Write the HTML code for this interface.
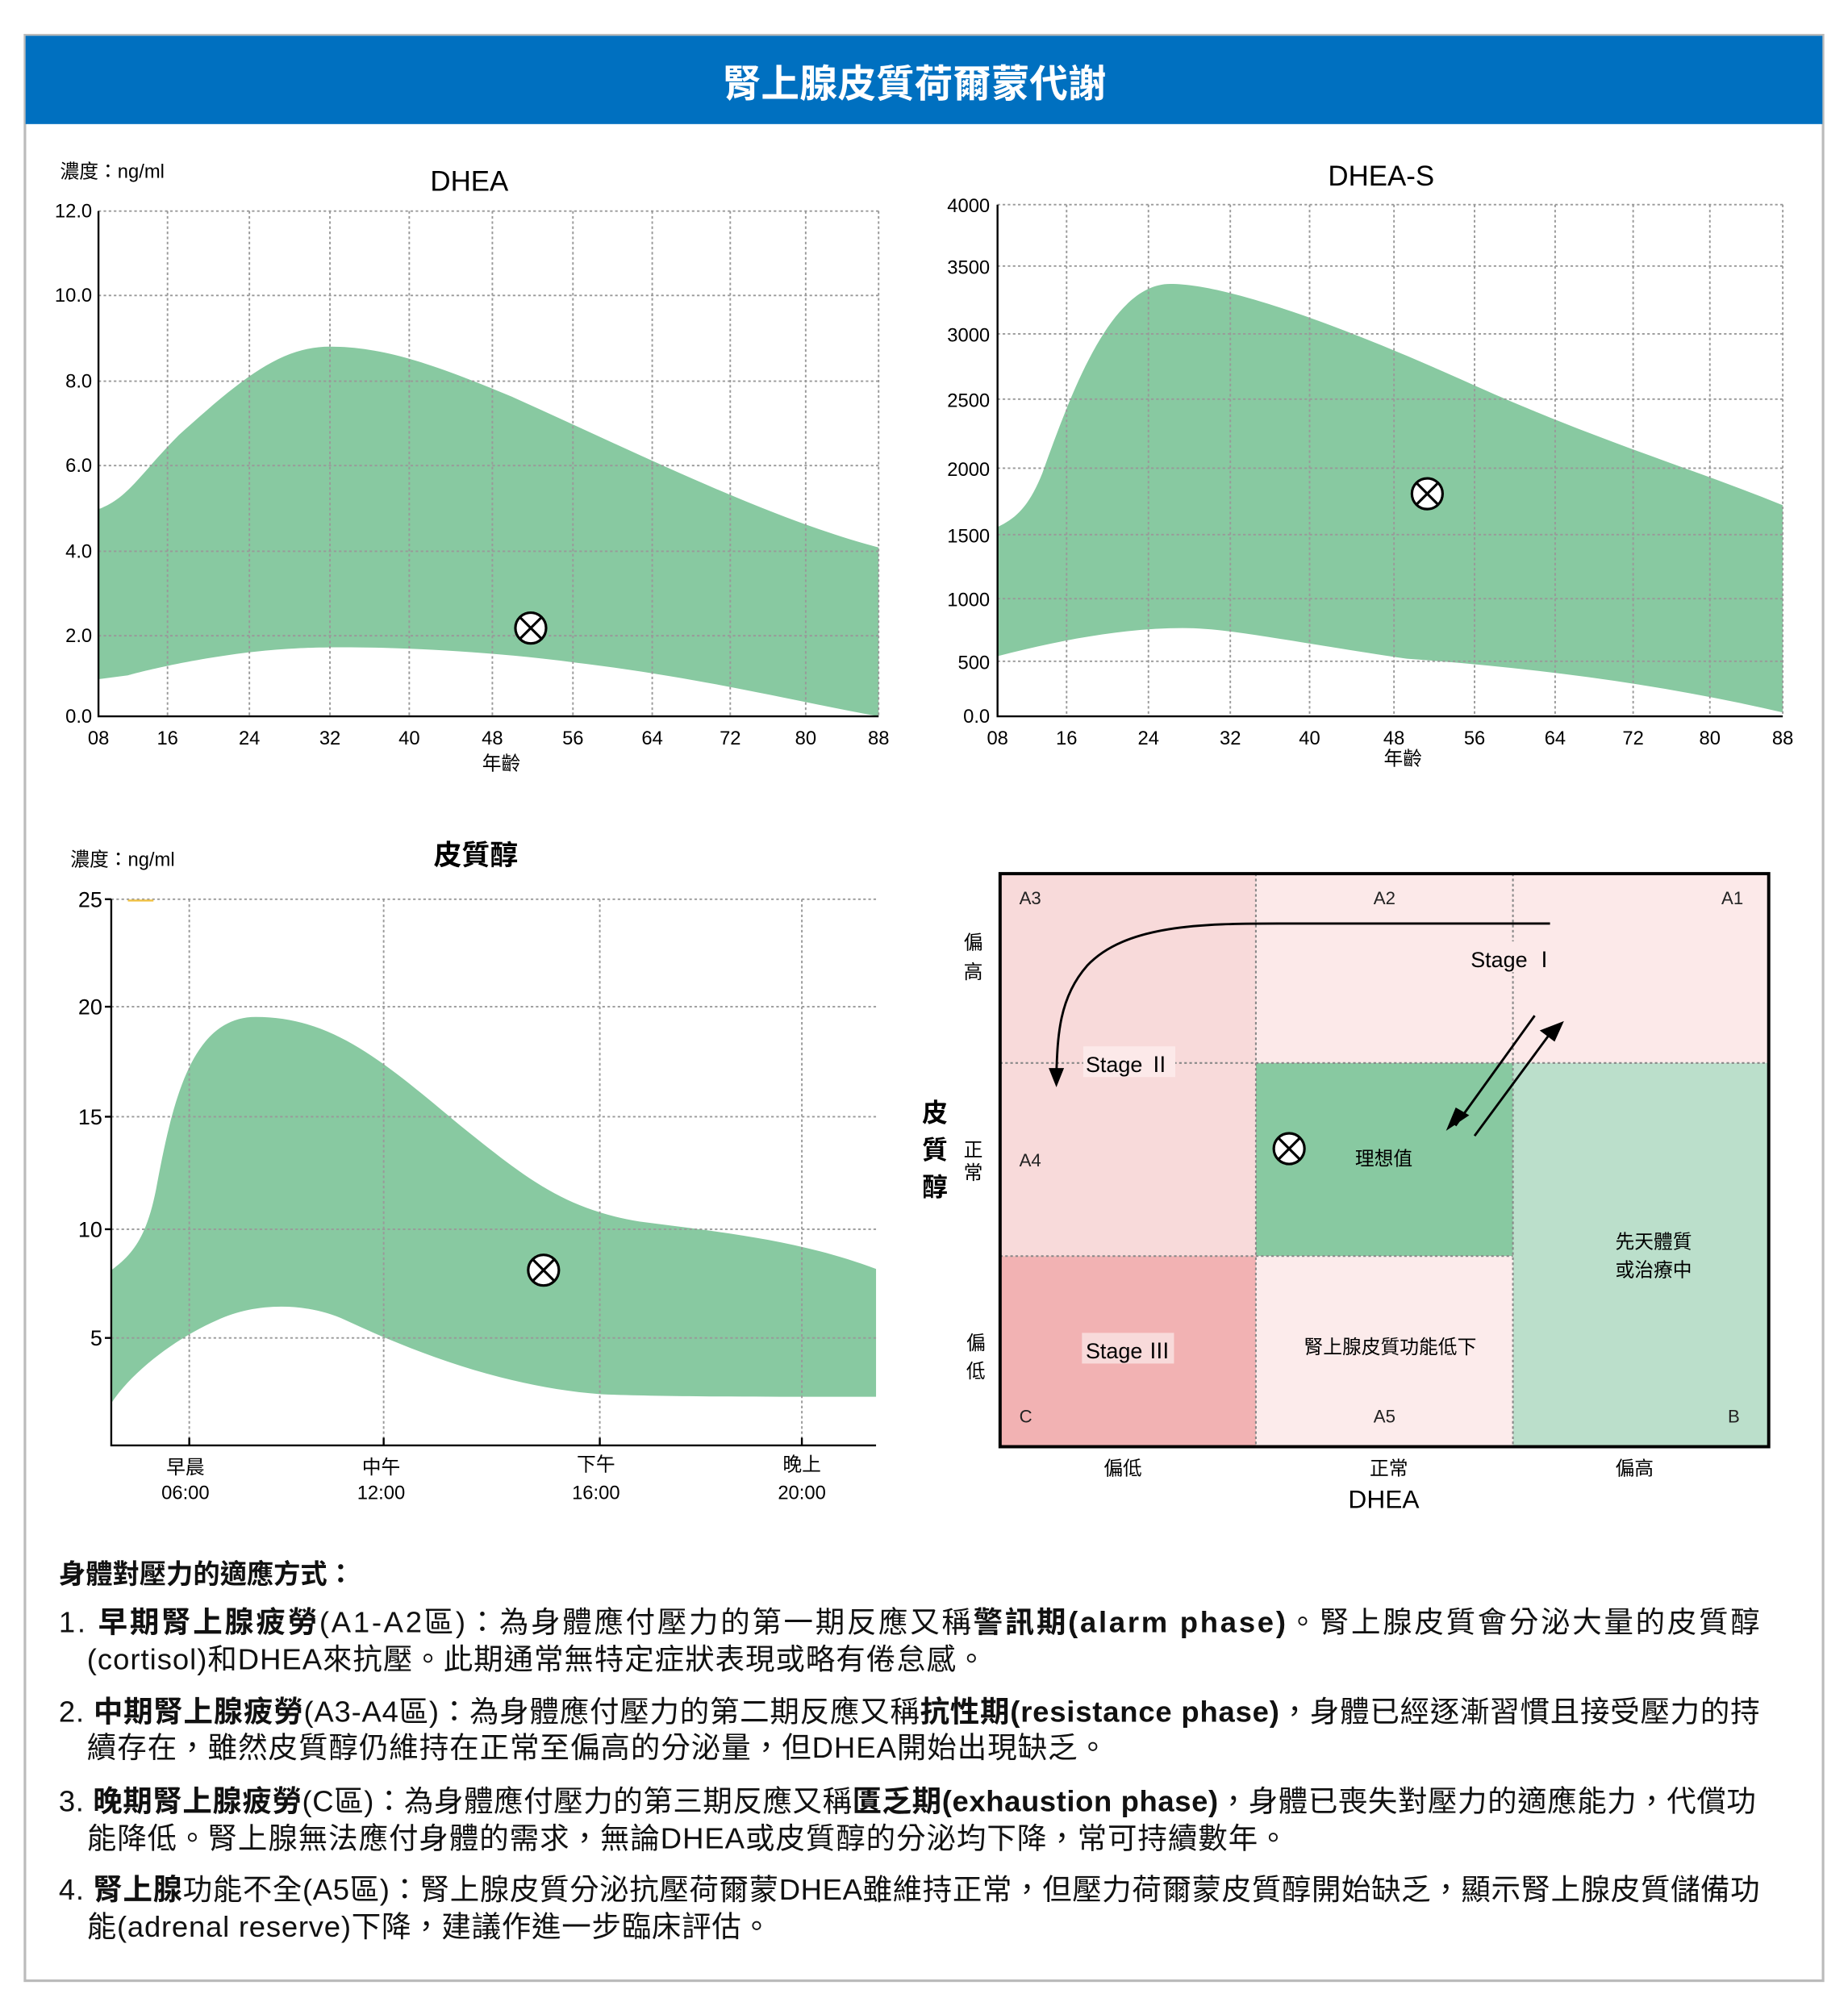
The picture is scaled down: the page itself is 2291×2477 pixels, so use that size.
<!DOCTYPE html>
<html><head><meta charset="utf-8"><style>
html,body{margin:0;padding:0;background:#fff}
svg{display:block}
text{font-family:"Liberation Sans","Noto Sans CJK TC",sans-serif}
</style></head><body>
<svg width="2291" height="2477" viewBox="0 0 1445 1562" preserveAspectRatio="none" xmlns="http://www.w3.org/2000/svg">
<rect x="19.5" y="27.5" width="1406" height="1521" fill="#fff" stroke="#bbb" stroke-width="2"/>
<rect x="20" y="28" width="1405" height="69" fill="#0070C0"/>
<text x="715" y="76" font-size="30" font-weight="bold" fill="#fff" text-anchor="middle">腎上腺皮質荷爾蒙代謝</text>

<!-- DHEA -->
<g>
<text x="47" y="139" font-size="15">濃度：ng/ml</text>
<text x="367" y="149" font-size="22" text-anchor="middle">DHEA</text>
<path d="M77,398 C100,390 110,370 140,340 C190,295 220,271 258,271 C300,271 340,285 400,310 C500,355 600,405 687,428 L687,560 C620,548 550,530 450,518 C350,505 260,505 230,507 C170,510 110,525 100,528 L77,531 Z" fill="#88C9A1"/>
<g stroke="#999" stroke-width="1.2" stroke-dasharray="2,2" fill="none">
<path d="M131,165V560M195,165V560M258,165V560M320,165V560M385,165V560M448,165V560M510,165V560M571,165V560M630,165V560M687,165V560"/>
<path d="M77,165H687M77,231H687M77,298H687M77,364H687M77,431H687M77,497H687"/>
</g>
<path d="M77,165V560H687" stroke="#000" stroke-width="1.5" fill="none"/>
<g font-size="15" text-anchor="end">
<text x="72" y="170">12.0</text><text x="72" y="236">10.0</text><text x="72" y="303">8.0</text><text x="72" y="369">6.0</text><text x="72" y="436">4.0</text><text x="72" y="502">2.0</text><text x="72" y="565">0.0</text>
</g>
<g font-size="15" text-anchor="middle">
<text x="77" y="582">08</text><text x="131" y="582">16</text><text x="195" y="582">24</text><text x="258" y="582">32</text><text x="320" y="582">40</text><text x="385" y="582">48</text><text x="448" y="582">56</text><text x="510" y="582">64</text><text x="571" y="582">72</text><text x="630" y="582">80</text><text x="687" y="582">88</text>
<text x="392" y="602">年齡</text>
</g>
<g stroke="#000" stroke-width="2" fill="#fff"><circle cx="415" cy="491" r="12"/><path d="M407,483L423,499M423,483L407,499"/></g>
</g>

<!-- DHEA-S -->
<g>
<text x="1080" y="145" font-size="22" text-anchor="middle">DHEA-S</text>
<path d="M780,412 C795,405 805,395 815,370 C840,300 870,222 915,222 C960,222 1050,255 1150,300 C1250,345 1320,365 1394,395 L1394,557 C1300,535 1200,522 1100,515 C1000,500 960,491 925,491 C880,491 830,500 780,513 Z" fill="#88C9A1"/>
<g stroke="#999" stroke-width="1.2" stroke-dasharray="2,2" fill="none">
<path d="M834,160V560M898,160V560M962,160V560M1024,160V560M1090,160V560M1153,160V560M1216,160V560M1277,160V560M1337,160V560M1394,160V560"/>
<path d="M780,160H1394M780,208H1394M780,261H1394M780,312H1394M780,366H1394M780,418H1394M780,468H1394M780,517H1394"/>
</g>
<path d="M780,160V560H1394" stroke="#000" stroke-width="1.5" fill="none"/>
<g font-size="15" text-anchor="end">
<text x="774" y="166">4000</text><text x="774" y="214">3500</text><text x="774" y="267">3000</text><text x="774" y="318">2500</text><text x="774" y="372">2000</text><text x="774" y="424">1500</text><text x="774" y="474">1000</text><text x="774" y="523">500</text><text x="774" y="565">0.0</text>
</g>
<g font-size="15" text-anchor="middle">
<text x="780" y="582">08</text><text x="834" y="582">16</text><text x="898" y="582">24</text><text x="962" y="582">32</text><text x="1024" y="582">40</text><text x="1090" y="582">48</text><text x="1153" y="582">56</text><text x="1216" y="582">64</text><text x="1277" y="582">72</text><text x="1337" y="582">80</text><text x="1394" y="582">88</text>
<text x="1097" y="598">年齡</text>
</g>
<g stroke="#000" stroke-width="2" fill="#fff"><circle cx="1116" cy="386" r="12"/><path d="M1108,378L1124,394M1124,378L1108,394"/></g>
</g>

<!-- Cortisol -->
<g>
<text x="55" y="677" font-size="15">濃度：ng/ml</text>
<text x="372" y="676" font-size="22" font-weight="bold" text-anchor="middle">皮質醇</text>
<path d="M87,993 C105,980 115,965 122,930 C135,860 150,795 200,795 C260,795 300,830 360,880 C410,920 440,945 500,955 C560,963 620,968 685,992 L685,1092 C600,1092 520,1092 470,1090 C400,1085 330,1060 270,1032 C240,1018 200,1018 170,1032 C140,1045 105,1070 87,1097 Z" fill="#88C9A1"/>
<g stroke="#999" stroke-width="1.2" stroke-dasharray="2,2" fill="none">
<path d="M148,703V1130M300,703V1130M469,703V1130M627,703V1130"/>
<path d="M87,703H685M87,787H685M87,873H685M87,961H685M87,1046H685"/>
</g>
<path d="M100,704H120" stroke="#f0c040" stroke-width="1.5"/>
<path d="M87,703V1130H685" stroke="#000" stroke-width="1.5" fill="none"/>
<path d="M82,703H87M82,787H87M82,873H87M82,961H87M82,1046H87M148,1130V1124M300,1130V1124M469,1130V1124M627,1130V1124" stroke="#000" stroke-width="1.5"/>
<g font-size="17" text-anchor="end">
<text x="80" y="709">25</text><text x="80" y="793">20</text><text x="80" y="879">15</text><text x="80" y="967">10</text><text x="80" y="1052">5</text>
</g>
<g font-size="15" text-anchor="middle">
<text x="145" y="1152">早晨</text><text x="145" y="1172">06:00</text>
<text x="298" y="1152">中午</text><text x="298" y="1172">12:00</text>
<text x="466" y="1150">下午</text><text x="466" y="1172">16:00</text>
<text x="627" y="1150">晚上</text><text x="627" y="1172">20:00</text>
</g>
<g stroke="#000" stroke-width="2" fill="#fff"><circle cx="425" cy="993" r="12"/><path d="M417,985L433,1001M433,985L417,1001"/></g>
</g>

<!-- Quadrant -->
<g>
<rect x="782" y="683" width="200" height="299" fill="#F8DADA"/>
<rect x="982" y="683" width="401" height="148" fill="#FCE9E9"/>
<rect x="982" y="831" width="201" height="151" fill="#88C9A1"/>
<rect x="1183" y="831" width="200" height="300" fill="#BBDFCB"/>
<rect x="782" y="982" width="200" height="149" fill="#F2B2B3"/>
<rect x="982" y="982" width="201" height="149" fill="#FCEBEB"/>
<g stroke="#888" stroke-width="1.3" stroke-dasharray="2,2" fill="none">
<path d="M982,683V1131M1183,683V1131M782,831H1383M782,982H1183"/>
</g>
<rect x="782" y="683" width="601" height="448" fill="none" stroke="#000" stroke-width="2.5"/>
<g font-size="14" fill="#222">
<text x="797" y="707">A3</text><text x="1074" y="707">A2</text><text x="1346" y="707">A1</text>
<text x="797" y="912">A4</text><text x="797" y="1112">C</text><text x="1074" y="1112">A5</text><text x="1351" y="1112">B</text>
</g>
<path d="M1212,722 L1000,722 C940,722 880,723 850,755 C828,780 827,810 826,840" stroke="#000" stroke-width="1.8" fill="none"/>
<path d="M820,835 L826,850 L832,835 Z" fill="#000"/>
<path d="M1200,794 L1138,880 M1153,888 L1215,804" stroke="#000" stroke-width="1.8"/>
<path d="M1134,880 L1146,872 L1139,868 Z M1220,801 L1207,806 L1215,812Z" fill="#000" stroke="#000" stroke-width="3"/>
<rect x="1146" y="736" width="70" height="24" fill="#FCE9E9"/>
<text x="1183" y="756" font-size="17" text-anchor="middle">Stage Ⅰ</text>
<rect x="847" y="818" width="72" height="24" fill="#FCE9E9"/>
<text x="882" y="838" font-size="17" text-anchor="middle">Stage Ⅱ</text>
<rect x="846" y="1042" width="72" height="24" fill="#F8DADA"/>
<text x="882" y="1062" font-size="17" text-anchor="middle">Stage Ⅲ</text>
<text x="1082" y="911" font-size="15" text-anchor="middle">理想值</text>
<text x="1293" y="976" font-size="15" text-anchor="middle">先天體質</text>
<text x="1293" y="998" font-size="15" text-anchor="middle">或治療中</text>
<text x="1087" y="1058" font-size="15" text-anchor="middle">腎上腺皮質功能低下</text>
<g stroke="#000" stroke-width="2" fill="#fff"><circle cx="1008" cy="898" r="12"/><path d="M1000,890L1016,906M1016,890L1000,906"/></g>
<g font-size="15" text-anchor="middle">
<text x="761" y="742">偏</text><text x="761" y="765">高</text>
<text x="761" y="904">正</text><text x="761" y="922">常</text>
<text x="763" y="1055">偏</text><text x="763" y="1077">低</text>
<text x="878" y="1153">偏低</text><text x="1086" y="1153">正常</text><text x="1278" y="1153">偏高</text>
</g>
<g font-size="20" font-weight="bold" text-anchor="middle">
<text x="731" y="877">皮</text><text x="731" y="906">質</text><text x="731" y="935">醇</text>
</g>
<text x="1082" y="1179" font-size="20" text-anchor="middle">DHEA</text>
</g>

<!-- Text -->
<g font-size="23" fill="#111">
<text x="46" y="1238" font-weight="bold" font-size="21">身體對壓力的適應方式：</text>
<text x="46" y="1276" textLength="1330" lengthAdjust="spacing"><tspan>1.</tspan><tspan font-weight="bold"> 早期腎上腺疲勞</tspan>(A1-A2區)：為身體應付壓力的第一期反應又稱<tspan font-weight="bold">警訊期(alarm phase)</tspan>。腎上腺皮質會分泌大量的皮質醇</text>
<text x="68" y="1305" textLength="703" lengthAdjust="spacing">(cortisol)和DHEA來抗壓。此期通常無特定症狀表現或略有倦怠感。</text>
<text x="46" y="1346" textLength="1330" lengthAdjust="spacing"><tspan>2.</tspan><tspan font-weight="bold"> 中期腎上腺疲勞</tspan>(A3-A4區)：為身體應付壓力的第二期反應又稱<tspan font-weight="bold">抗性期(resistance phase)</tspan>，身體已經逐漸習慣且接受壓力的持</text>
<text x="68" y="1374" textLength="798" lengthAdjust="spacing">續存在，雖然皮質醇仍維持在正常至偏高的分泌量，但DHEA開始出現缺乏。</text>
<text x="46" y="1416" textLength="1327" lengthAdjust="spacing"><tspan>3.</tspan><tspan font-weight="bold"> 晚期腎上腺疲勞</tspan>(C區)：為身體應付壓力的第三期反應又稱<tspan font-weight="bold">匱乏期(exhaustion phase)</tspan>，身體已喪失對壓力的適應能力，代償功</text>
<text x="68" y="1445" textLength="939" lengthAdjust="spacing">能降低。腎上腺無法應付身體的需求，無論DHEA或皮質醇的分泌均下降，常可持續數年。</text>
<text x="46" y="1485" textLength="1330" lengthAdjust="spacing"><tspan>4.</tspan><tspan font-weight="bold"> 腎上腺</tspan>功能不全(A5區)：腎上腺皮質分泌抗壓荷爾蒙DHEA雖維持正常，但壓力荷爾蒙皮質醇開始缺乏，顯示腎上腺皮質儲備功</text>
<text x="68" y="1514" textLength="535" lengthAdjust="spacing">能(adrenal reserve)下降，建議作進一步臨床評估。</text>
</g>
</svg>
</body></html>
